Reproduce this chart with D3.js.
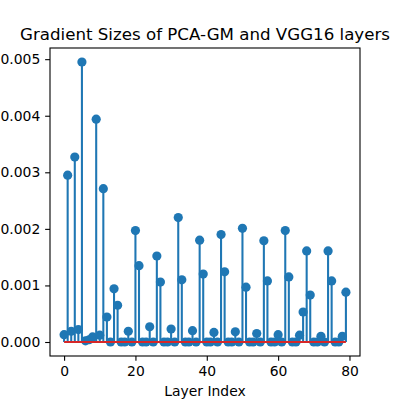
<!DOCTYPE html>
<html lang="en">
<head>
  <meta charset="UTF-8">
  <title>Gradient Sizes of PCA-GM and VGG16 layers</title>
  <script src="https://d3js.org/d3.v7.min.js"></script>
  <style>
    body { margin: 0; background: #fff; font-family: "DejaVu Sans", sans-serif; }
    .axis text { font-family: "DejaVu Sans", sans-serif; font-size: 13.9px; fill: #000; }
    .axis path { display: none; }
    .axis line { stroke: #000; stroke-width: 1.1px; }
  </style>
</head>
<body>
  <div id="chart"></div>
  <script>
    // gradient size for each layer index (0..79)
    const gradSizes = [
      0.00013, 0.00295, 0.00019, 0.00327, 0.00022, 0.00495, 0.00002, 0.00004, 0.00009, 0.00394,
      0.00012, 0.00271, 0.00044, 0, 0.00094, 0.00065, 0, 0, 0.00019, 0,
      0.00197, 0.00135, 0, 0, 0.00027, 0, 0.00152, 0.00106, 0, 0,
      0.00023, 0, 0.0022, 0.0011, 0, 0, 0.0002, 0, 0.0018, 0.0012,
      0, 0, 0.00017, 0, 0.0019, 0.00124, 0, 0, 0.00018, 0,
      0.00201, 0.00097, 0, 0, 0.00015, 0, 0.00179, 0.00108, 0, 0,
      0.00013, 0, 0.00197, 0.00115, 0, 0, 0.00012, 0.00053, 0.00161, 0.00083,
      0, 0, 0.0001, 0, 0.00161, 0.00108, 0, 0, 0.0001, 0.00088
    ];
    const xTicks = [0, 20, 40, 60, 80];
    const yTicks = [0, 0.001, 0.002, 0.003, 0.004, 0.005];

    const data = gradSizes.map((v, i) => ({ i: i, v: v }));

    const W = 400, H = 400;
    const margin = { top: 48, right: 40, bottom: 44, left: 50 };
    const width = W - margin.left - margin.right;
    const height = H - margin.top - margin.bottom;

    // matplotlib-style 5% margins
    const xMin = 0, xMax = data.length - 1;
    const xPad = (xMax - xMin) * 0.05;
    const yMin = 0, yMax = d3.max(gradSizes);
    const yPad = (yMax - yMin) * 0.05;

    const x = d3.scaleLinear().domain([xMin - xPad, xMax + xPad]).range([0, width]);
    const y = d3.scaleLinear().domain([yMin - yPad, yMax + yPad]).range([height, 0]);

    const svg = d3.select("#chart").append("svg")
      .attr("width", W)
      .attr("height", H)
      .append("g")
      .attr("transform", `translate(${margin.left},${margin.top})`);

    // stems
    svg.selectAll(".stem")
      .data(data)
      .enter()
      .append("line")
      .attr("class", "stem")
      .attr("x1", d => x(d.i))
      .attr("x2", d => x(d.i))
      .attr("y1", y(0))
      .attr("y2", d => y(d.v))
      .attr("stroke", "#1f77b4")
      .attr("stroke-width", 2.08);

    // markers
    svg.selectAll(".marker")
      .data(data)
      .enter()
      .append("circle")
      .attr("class", "marker")
      .attr("cx", d => x(d.i))
      .attr("cy", d => y(d.v))
      .attr("r", 4.6)
      .attr("fill", "#1f77b4");

    // baseline
    svg.append("line")
      .attr("x1", x(xMin))
      .attr("x2", x(xMax))
      .attr("y1", y(0))
      .attr("y2", y(0))
      .attr("stroke", "#d62728")
      .attr("stroke-width", 2.08);

    // axes
    svg.append("g")
      .attr("class", "axis")
      .attr("transform", `translate(0,${height})`)
      .call(d3.axisBottom(x).tickValues(xTicks).tickSize(4.86).tickPadding(4.86).tickFormat(d3.format("d")));

    svg.append("g")
      .attr("class", "axis")
      .call(d3.axisLeft(y).tickValues(yTicks).tickSize(4.86).tickPadding(4.86).tickFormat(d3.format(".3f")));

    // frame
    svg.append("rect")
      .attr("width", width)
      .attr("height", height)
      .attr("fill", "none")
      .attr("stroke", "#000")
      .attr("stroke-width", 1.1);

    // title
    svg.append("text")
      .attr("x", width / 2)
      .attr("y", -8.3)
      .attr("text-anchor", "middle")
      .style("font-size", "16.67px")
      .style("font-family", "DejaVu Sans, sans-serif")
      .text("Gradient Sizes of PCA-GM and VGG16 layers");

    // x label
    svg.append("text")
      .attr("x", width / 2)
      .attr("y", height + 40)
      .attr("text-anchor", "middle")
      .style("font-size", "13.9px")
      .style("font-family", "DejaVu Sans, sans-serif")
      .text("Layer Index");
  </script>
</body>
</html>
